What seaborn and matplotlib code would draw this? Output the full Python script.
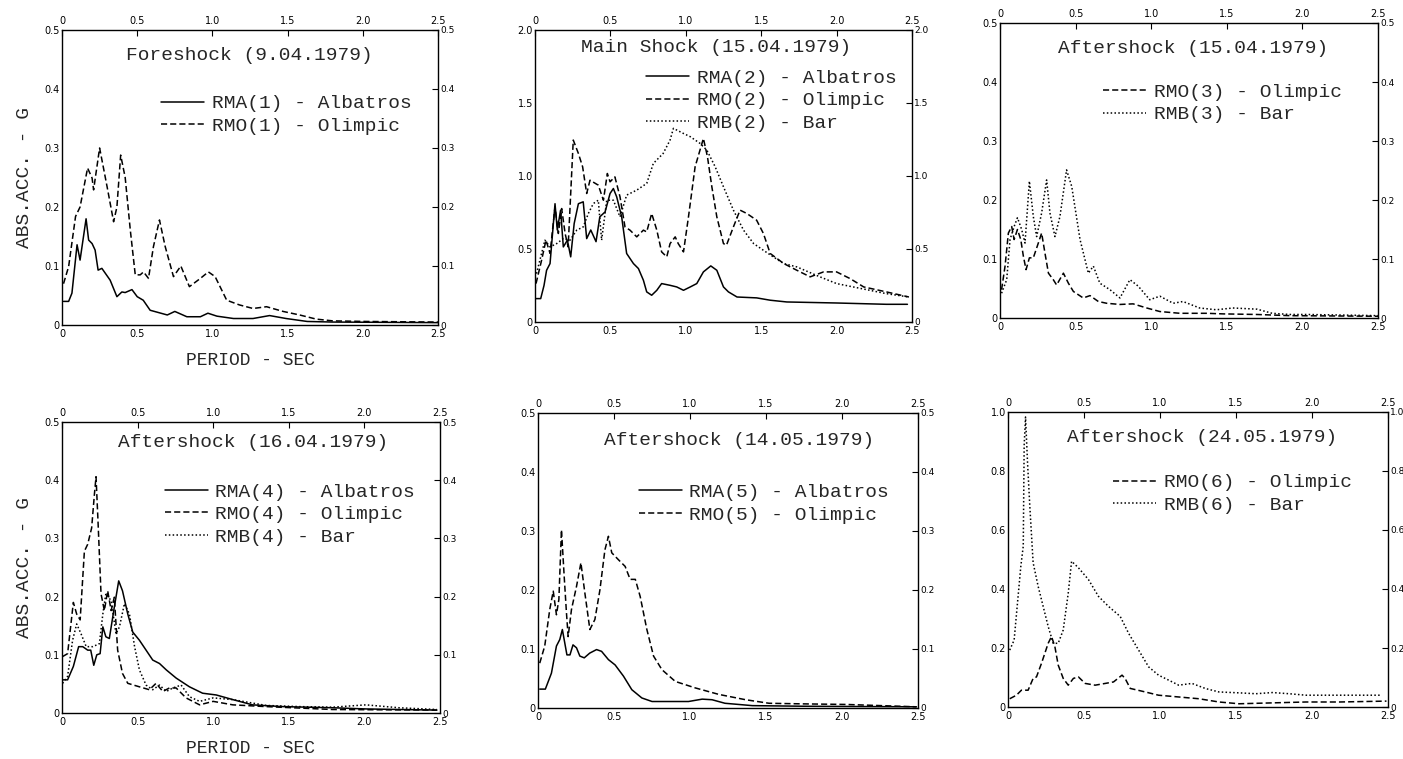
import matplotlib
matplotlib.use("Agg")
import matplotlib.pyplot as plt
import seaborn as sns

# ---- data (period in s, abs. acc. in g) ----
rma1_x = [0.01, 0.044, 0.066, 0.10, 0.12, 0.16, 0.177, 0.20, 0.22, 0.24, 0.265, 0.32, 0.365, 0.398, 0.42,
          0.465, 0.50, 0.54, 0.586, 0.70, 0.75, 0.83, 0.92, 0.97, 1.03, 1.14, 1.27, 1.38, 1.49, 1.63, 1.80, 2.50]
rma1_y = [0.04, 0.04, 0.054, 0.136, 0.11, 0.18, 0.144, 0.138, 0.127, 0.093, 0.096, 0.076, 0.048, 0.056, 0.055,
          0.06, 0.048, 0.042, 0.025, 0.017, 0.023, 0.014, 0.014, 0.02, 0.015, 0.011, 0.011, 0.016, 0.011, 0.006, 0.005, 0.004]
rmo1_x = [0.01, 0.044, 0.09, 0.12, 0.17, 0.20, 0.21, 0.25, 0.30, 0.343, 0.365, 0.39, 0.42, 0.454, 0.487, 0.52,
          0.542, 0.575, 0.608, 0.648, 0.686, 0.741, 0.79, 0.847, 0.92, 0.973, 1.018, 1.095, 1.18, 1.27, 1.36,
          1.47, 1.58, 1.69, 1.80, 2.02, 2.50]
rmo1_y = [0.07, 0.099, 0.184, 0.20, 0.266, 0.249, 0.229, 0.30, 0.234, 0.175, 0.20, 0.288, 0.25, 0.161, 0.085, 0.085,
          0.09, 0.079, 0.133, 0.178, 0.133, 0.082, 0.10, 0.065, 0.079, 0.09, 0.082, 0.042, 0.034, 0.028, 0.031,
          0.023, 0.017, 0.01, 0.007, 0.006, 0.005]

rma2_x = [0.007, 0.038, 0.06, 0.077, 0.10, 0.133, 0.148, 0.17, 0.188, 0.215, 0.237, 0.26, 0.288, 0.32, 0.343,
          0.37, 0.405, 0.43, 0.465, 0.498, 0.52, 0.542, 0.575, 0.608, 0.653, 0.686, 0.719, 0.741, 0.774, 0.808,
          0.84, 0.896, 0.94, 0.985, 1.03, 1.073, 1.117, 1.166, 1.206, 1.25, 1.283, 1.34, 1.47, 1.56, 1.67, 2.0,
          2.33, 2.47]
rma2_y = [0.16, 0.16, 0.25, 0.354, 0.40, 0.81, 0.63, 0.766, 0.514, 0.56, 0.446, 0.674, 0.81, 0.823, 0.571,
          0.63, 0.55, 0.72, 0.754, 0.88, 0.914, 0.857, 0.72, 0.469, 0.40, 0.366, 0.286, 0.206, 0.183, 0.217,
          0.263, 0.251, 0.24, 0.217, 0.24, 0.263, 0.343, 0.384, 0.354, 0.24, 0.206, 0.171, 0.165, 0.149, 0.137,
          0.13, 0.121, 0.121]
rmo2_x = [0.007, 0.044, 0.073, 0.10, 0.133, 0.155, 0.177, 0.20, 0.22, 0.254, 0.288, 0.316, 0.343, 0.365, 0.42,
          0.454, 0.48, 0.498, 0.53, 0.564, 0.597, 0.63, 0.675, 0.719, 0.741, 0.774, 0.808, 0.84, 0.874, 0.896,
          0.93, 0.95, 0.985, 1.018, 1.062, 1.117, 1.144, 1.173, 1.206, 1.25, 1.27, 1.316, 1.36, 1.405, 1.47,
          1.515, 1.56, 1.65, 1.737, 1.825, 1.914, 2.0, 2.09, 2.18, 2.33, 2.48]
rmo2_y = [0.263, 0.423, 0.56, 0.47, 0.789, 0.606, 0.777, 0.606, 0.514, 1.246, 1.154, 1.063, 0.88, 0.971, 0.937,
          0.834, 1.017, 0.96, 0.994, 0.857, 0.651, 0.629, 0.583, 0.629, 0.617, 0.743, 0.629, 0.48, 0.446, 0.537,
          0.583, 0.537, 0.48, 0.72, 1.063, 1.257, 1.131, 0.926, 0.72, 0.537, 0.526, 0.651, 0.766, 0.743, 0.697,
          0.606, 0.469, 0.40, 0.354, 0.309, 0.343, 0.343, 0.297, 0.24, 0.206, 0.171]
rmb2_x = [0.01, 0.066, 0.10, 0.144, 0.188, 0.232, 0.277, 0.32, 0.354, 0.387, 0.42, 0.442, 0.476, 0.52, 0.564,
          0.608, 0.675, 0.741, 0.785, 0.85, 0.896, 0.918, 0.985, 1.03, 1.095, 1.14, 1.195, 1.25, 1.316, 1.383,
          1.45, 1.515, 1.58, 1.65, 1.737, 1.89, 2.0, 2.11, 2.22, 2.33, 2.48]
rmb2_y = [0.331, 0.56, 0.514, 0.537, 0.571, 0.56, 0.629, 0.651, 0.743, 0.811, 0.834, 0.56, 0.834, 0.834, 0.72,
          0.869, 0.903, 0.949, 1.086, 1.154, 1.246, 1.326, 1.291, 1.269, 1.223, 1.177, 1.063, 0.926, 0.766, 0.629,
          0.537, 0.491, 0.446, 0.40, 0.377, 0.309, 0.263, 0.24, 0.217, 0.194, 0.171]

rmo3_x = [0.01, 0.033, 0.055, 0.077, 0.093, 0.115, 0.137, 0.154, 0.172, 0.194, 0.22, 0.253, 0.275, 0.297, 0.32,
          0.352, 0.374, 0.419, 0.452, 0.485, 0.55, 0.595, 0.65, 0.705, 0.793, 0.88, 0.97, 1.057, 1.19, 1.366,
          1.476, 1.70, 1.916, 2.50]
rmo3_y = [0.048, 0.088, 0.144, 0.155, 0.133, 0.15, 0.133, 0.105, 0.082, 0.102, 0.102, 0.127, 0.144, 0.11, 0.076,
          0.065, 0.056, 0.076, 0.059, 0.045, 0.034, 0.038, 0.028, 0.025, 0.023, 0.024, 0.017, 0.011, 0.008, 0.008,
          0.007, 0.006, 0.004, 0.003]
rmb3_x = [0.01, 0.044, 0.066, 0.093, 0.115, 0.143, 0.165, 0.194, 0.22, 0.242, 0.275, 0.308, 0.33, 0.363, 0.396,
          0.44, 0.474, 0.529, 0.584, 0.617, 0.66, 0.727, 0.793, 0.859, 0.914, 0.99, 1.057, 1.145, 1.21, 1.32,
          1.43, 1.54, 1.70, 1.80, 1.916, 2.03, 2.50]
rmb3_y = [0.042, 0.065, 0.133, 0.155, 0.17, 0.15, 0.127, 0.232, 0.172, 0.138, 0.178, 0.234, 0.178, 0.138, 0.172,
          0.251, 0.223, 0.133, 0.076, 0.088, 0.059, 0.048, 0.034, 0.065, 0.054, 0.031, 0.037, 0.025, 0.028, 0.017,
          0.014, 0.017, 0.015, 0.008, 0.006, 0.006, 0.004]

rma4_x = [0.004, 0.037, 0.075, 0.11, 0.137, 0.17, 0.19, 0.21, 0.23, 0.252, 0.27, 0.29, 0.313, 0.346, 0.375, 0.40,
          0.435, 0.468, 0.512, 0.556, 0.60, 0.645, 0.69, 0.755, 0.843, 0.93, 1.02, 1.13, 1.26, 1.46, 1.79, 2.01, 2.48]
rma4_y = [0.057, 0.057, 0.08, 0.114, 0.114, 0.108, 0.108, 0.082, 0.10, 0.102, 0.148, 0.131, 0.128, 0.182, 0.227,
          0.21, 0.17, 0.139, 0.125, 0.108, 0.091, 0.085, 0.074, 0.06, 0.045, 0.034, 0.031, 0.023, 0.014, 0.011,
          0.009, 0.007, 0.005]
rmo4_x = [0.004, 0.037, 0.075, 0.097, 0.12, 0.148, 0.17, 0.196, 0.214, 0.225, 0.238, 0.258, 0.28, 0.302, 0.325,
          0.346, 0.368, 0.40, 0.435, 0.512, 0.578, 0.622, 0.667, 0.71, 0.755, 0.82, 0.91, 1.0, 1.13, 1.35, 1.79, 2.48]
rmo4_y = [0.097, 0.102, 0.19, 0.17, 0.16, 0.278, 0.29, 0.318, 0.375, 0.406, 0.33, 0.205, 0.176, 0.21, 0.176,
          0.199, 0.108, 0.068, 0.051, 0.045, 0.04, 0.051, 0.037, 0.043, 0.043, 0.026, 0.014, 0.02, 0.014, 0.011,
          0.006, 0.005]
rmb4_x = [0.004, 0.037, 0.07, 0.097, 0.126, 0.16, 0.203, 0.247, 0.27, 0.29, 0.325, 0.357, 0.38, 0.413, 0.446,
          0.48, 0.512, 0.556, 0.60, 0.645, 0.69, 0.733, 0.788, 0.843, 0.91, 1.0, 1.13, 1.35, 1.57, 1.79, 2.01,
          2.23, 2.48]
rmb4_y = [0.051, 0.063, 0.125, 0.153, 0.136, 0.114, 0.114, 0.119, 0.17, 0.205, 0.193, 0.136, 0.148, 0.188, 0.17,
          0.114, 0.074, 0.048, 0.04, 0.048, 0.037, 0.043, 0.048, 0.028, 0.02, 0.026, 0.023, 0.013, 0.011, 0.01,
          0.014, 0.009, 0.006]

rma5_x = [0.011, 0.048, 0.088, 0.121, 0.143, 0.16, 0.176, 0.19, 0.21, 0.23, 0.253, 0.275, 0.304, 0.34, 0.385,
          0.418, 0.463, 0.507, 0.562, 0.617, 0.683, 0.75, 0.86, 0.99, 1.08, 1.145, 1.23, 1.41, 1.74, 2.49]
rma5_y = [0.032, 0.032, 0.059, 0.105, 0.116, 0.133, 0.11, 0.09, 0.09, 0.107, 0.102, 0.088, 0.085, 0.093, 0.099,
          0.096, 0.082, 0.073, 0.054, 0.031, 0.017, 0.011, 0.011, 0.011, 0.015, 0.014, 0.008, 0.004, 0.003, 0.002]
rmo5_x = [0.011, 0.044, 0.077, 0.10, 0.121, 0.137, 0.154, 0.172, 0.187, 0.198, 0.22, 0.253, 0.282, 0.308, 0.341,
          0.374, 0.407, 0.44, 0.463, 0.485, 0.53, 0.573, 0.606, 0.64, 0.672, 0.716, 0.76, 0.815, 0.903, 1.035,
          1.19, 1.366, 1.52, 1.74, 2.03, 2.49]
rmo5_y = [0.076, 0.105, 0.167, 0.198, 0.158, 0.184, 0.302, 0.223, 0.161, 0.121, 0.167, 0.206, 0.246, 0.195,
          0.133, 0.15, 0.20, 0.268, 0.291, 0.263, 0.251, 0.24, 0.218, 0.218, 0.189, 0.133, 0.088, 0.065, 0.045,
          0.034, 0.023, 0.014, 0.008, 0.007, 0.006, 0.002]

rmo6_x = [0.011, 0.055, 0.088, 0.132, 0.165, 0.187, 0.22, 0.264, 0.286, 0.308, 0.33, 0.363, 0.396, 0.43, 0.463,
          0.507, 0.573, 0.64, 0.694, 0.75, 0.77, 0.804, 0.903, 0.99, 1.123, 1.256, 1.388, 1.52, 1.74, 1.96, 2.18, 2.49]
rmo6_y = [0.028, 0.04, 0.057, 0.057, 0.097, 0.102, 0.148, 0.216, 0.239, 0.205, 0.142, 0.097, 0.074, 0.097, 0.102,
          0.08, 0.074, 0.08, 0.085, 0.108, 0.097, 0.063, 0.051, 0.04, 0.034, 0.028, 0.017, 0.011, 0.014, 0.017,
          0.017, 0.02]
rmb6_x = [0.011, 0.04, 0.066, 0.084, 0.10, 0.106, 0.115, 0.128, 0.143, 0.165, 0.198, 0.231, 0.264, 0.297, 0.33,
          0.363, 0.396, 0.418, 0.463, 0.529, 0.595, 0.661, 0.738, 0.793, 0.859, 0.925, 0.99, 1.057, 1.123, 1.21,
          1.30, 1.388, 1.52, 1.63, 1.74, 1.85, 1.96, 2.18, 2.45]
rmb6_y = [0.193, 0.227, 0.375, 0.477, 0.545, 0.886, 0.983, 0.83, 0.682, 0.489, 0.409, 0.341, 0.273, 0.216, 0.216,
          0.261, 0.386, 0.494, 0.472, 0.432, 0.375, 0.341, 0.307, 0.25, 0.193, 0.136, 0.108, 0.091, 0.074, 0.08,
          0.0625, 0.051, 0.048, 0.045, 0.049, 0.045, 0.04, 0.04, 0.04]

titles = ["Foreshock (9.04.1979)", "Main Shock (15.04.1979)", "Aftershock (15.04.1979)",
          "Aftershock (16.04.1979)", "Aftershock (14.05.1979)", "Aftershock (24.05.1979)"]
x_ticks = [0, 0.5, 1.0, 1.5, 2.0, 2.5]
x_ticklabels = ["0", "0.5", "1.0", "1.5", "2.0", "2.5"]

STYLES = {"A": "-", "O": (0, (4, 2)), "B": (0, (1, 1.5))}

panels = [
    # rect, ymax, ystep, series, title xy, legend anchor
    ([0.0442, 0.5718, 0.268, 0.3887], 0.5, 0.1,
     [(rma1_x, rma1_y, "RMA(1) - Albatros", "A"), (rmo1_x, rmo1_y, "RMO(1) - Olimpic", "O")],
     (0.497, 0.915), (0.96, 0.82)),
    ([0.3813, 0.5758, 0.2687, 0.3847], 2.0, 0.5,
     [(rma2_x, rma2_y, "RMA(2) - Albatros", "A"), (rmo2_x, rmo2_y, "RMO(2) - Olimpic", "O"),
      (rmb2_x, rmb2_y, "RMB(2) - Bar", "B")],
     (0.48, 0.94), (0.99, 0.905)),
    ([0.7128, 0.581, 0.2694, 0.3887], 0.5, 0.1,
     [(rmo3_x, rmo3_y, "RMO(3) - Olimpic", "O"), (rmb3_x, rmb3_y, "RMB(3) - Bar", "B")],
     (0.51, 0.915), (0.935, 0.835)),
    ([0.0442, 0.0606, 0.2694, 0.3834], 0.5, 0.1,
     [(rma4_x, rma4_y, "RMA(4) - Albatros", "A"), (rmo4_x, rmo4_y, "RMO(4) - Olimpic", "O"),
      (rmb4_x, rmb4_y, "RMB(4) - Bar", "B")],
     (0.505, 0.928), (0.965, 0.83)),
    ([0.3835, 0.0672, 0.2708, 0.3887], 0.5, 0.1,
     [(rma5_x, rma5_y, "RMA(5) - Albatros", "A"), (rmo5_x, rmo5_y, "RMO(5) - Olimpic", "O")],
     (0.53, 0.908), (0.955, 0.80)),
    ([0.7185, 0.0685, 0.2708, 0.3887], 1.0, 0.2,
     [(rmo6_x, rmo6_y, "RMO(6) - Olimpic", "O"), (rmb6_x, rmb6_y, "RMB(6) - Bar", "B")],
     (0.51, 0.915), (0.935, 0.83)),
]

sns.set_style("white")
plt.rcParams["font.family"] = ["DejaVu Sans"]
MONO = "Liberation Mono"

fig = plt.figure(figsize=(14.03, 7.59), dpi=100)

for i, (rect, ymax, ystep, series, txy, lxy) in enumerate(panels):
    ax = fig.add_axes(rect)
    for x, y, lab, kind in series:
        sns.lineplot(x=x, y=y, ax=ax, color="black", lw=1.1, linestyle=STYLES[kind],
                     label=lab, estimator=None, sort=False)
    ax.set_xlim(0, 2.5)
    ax.set_ylim(0, ymax)
    n = int(round(ymax / ystep))
    yt = [k * ystep for k in range(n + 1)]
    ax.set_yticks(yt)
    ax.set_yticklabels(["0"] + ["%.1f" % v for v in yt[1:]])
    ax.set_xticks(x_ticks)
    ax.set_xticklabels(x_ticklabels)
    ax.tick_params(direction="in", length=4, width=0.8, labelsize=7, pad=3,
                   top=True, right=True, labeltop=True, labelright=True, colors="black")
    # right-hand labels sit almost on the tick, as in the scan
    for t in ax.yaxis.get_major_ticks():
        t.label2.set_fontsize(6.5)
        t.set_pad(1.5)
    for s in ax.spines.values():
        s.set_color("black")
        s.set_linewidth(1.0)
    ax.text(txy[0], txy[1], titles[i], transform=ax.transAxes, ha="center", va="center",
            fontsize=14, family=MONO)
    ax.legend(loc="upper right", bbox_to_anchor=lxy, frameon=False,
              prop={"family": MONO, "size": 14}, handlelength=2.2, handletextpad=0.4,
              labelspacing=0.25, borderpad=0.1)
    if i in (0, 3):
        ax.set_ylabel("ABS.ACC. - G", family=MONO, fontsize=14, labelpad=8)
        ax.set_xlabel("PERIOD - SEC", family=MONO, fontsize=13, labelpad=9)

fig.savefig("out.png", dpi=100)
